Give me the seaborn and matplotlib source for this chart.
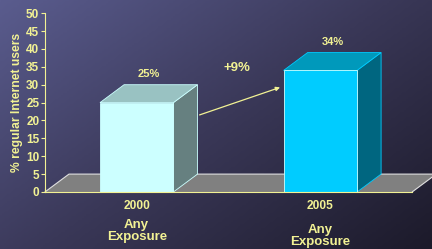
import numpy as np
import matplotlib
matplotlib.use("Agg")
import matplotlib.pyplot as plt
from matplotlib.colors import LinearSegmentedColormap
from matplotlib.patches import Polygon
import seaborn as sns
import pandas as pd

# data
years = ["2000", "2005"]
subtitles = ["Any\nExposure", "Any\nExposure"]
values = [25, 34]
value_labels = ["25%", "34%"]
change_label = "+9%"

front_colors = ["#ccffff", "#00ccff"]
side_colors = ["#668080", "#006680"]
top_colors = ["#99c2c2", "#0099bb"]
yellow = "#f2f294"

sns.set_style("ticks")
plt.rcParams["font.family"] = ["Liberation Sans", "DejaVu Sans"]
plt.rcParams["font.weight"] = "bold"

fig = plt.figure(figsize=(4.32, 2.49), dpi=100)

# gradient background
bg = fig.add_axes([0, 0, 1, 1], zorder=-10)
gx, gy = np.meshgrid(np.linspace(0, 1, 200), np.linspace(0, 1, 120))
grad = (gx * 0.55 + gy * 0.45)
cmap = LinearSegmentedColormap.from_list("bg", ["#5a5c8e", "#3a3858", "#1c1a2a"])
bg.imshow(grad, cmap=cmap, aspect="auto", extent=[0, 1, 0, 1], origin="upper")
bg.axis("off")

ax = fig.add_axes([0.104, 0.229, 0.850, 0.718])
ax.set_facecolor("none")

df = pd.DataFrame({"year": years, "value": values})
dx, dy = 0.131, 5.0
width = 0.4

# floor
floor = Polygon([(-0.5, 0), (1.5, 0), (1.5 + dx, dy), (-0.5 + dx, dy)],
                closed=True, facecolor="#808080", edgecolor="none", zorder=1, clip_on=False)
ax.add_patch(floor)
ax.plot([-0.5, -0.5 + dx, 1.5 + dx, 1.5], [0, dy, dy, 0], color="#e0e0e0",
        lw=0.8, zorder=1.5, clip_on=False)

sns.barplot(data=df, x="year", y="value", hue="year", palette=front_colors,
            width=width, legend=False, ax=ax, zorder=3, saturation=1,
            edgecolor=front_colors, linewidth=0.6)

for i, v in enumerate(values):
    x0, x1 = i - width / 2, i + width / 2
    side = Polygon([(x1, 0), (x1 + dx, dy), (x1 + dx, v + dy), (x1, v)], closed=True,
                   facecolor=side_colors[i], edgecolor=front_colors[i], lw=0.6, zorder=2.5)
    top = Polygon([(x0, v), (x0 + dx, v + dy), (x1 + dx, v + dy), (x1, v)], closed=True,
                  facecolor=top_colors[i], edgecolor=front_colors[i], lw=0.6, zorder=2.5)
    ax.add_patch(side)
    ax.add_patch(top)
    ax.text(i + dx / 2, v + dy + 3, value_labels[i], color=yellow, fontsize=8,
            fontweight="bold", ha="center", va="center")

ax.annotate("", xy=(0.795, 29.5), xytext=(0.328, 21.3),
            arrowprops=dict(arrowstyle="-|>", color=yellow, lw=0.9, mutation_scale=6))
ax.text(0.545, 34.7, change_label, color=yellow, fontsize=9.5, fontweight="bold",
        ha="center", va="center")

ax.set_xlim(-0.5, 1.5)
ax.set_ylim(0, 50)
ax.set_yticks(range(0, 51, 5))
ax.set_xticks([-0.5, 0.5, 1.5])
ax.set_xticklabels([])
ax.tick_params(axis="y", colors=yellow, labelsize=8.5, length=3, width=0.8, pad=1)
ax.tick_params(axis="x", colors=yellow, length=3, width=0.8, direction="in")
for lab in ax.get_yticklabels():
    lab.set_fontweight("bold")
for s in ["top", "right"]:
    ax.spines[s].set_visible(False)
for s in ["left", "bottom"]:
    ax.spines[s].set_color(yellow)
    ax.spines[s].set_linewidth(0.8)
    ax.spines[s].set_zorder(4)
ax.set_xlabel("")
ax.set_ylabel("% regular Internet users", color=yellow, fontsize=8.7,
              fontweight="bold", labelpad=2)

trans = ax.get_xaxis_transform()
sub_offsets = [-0.22, -0.247]
for i, (yr, sub) in enumerate(zip(years, subtitles)):
    ax.text(i, -0.078, yr, transform=trans, color=yellow, fontsize=8.6,
            fontweight="bold", ha="center", va="center")
    ax.text(i, sub_offsets[i], sub, transform=trans, color=yellow, fontsize=9.5,
            fontweight="bold", ha="center", va="center", linespacing=1.0)

fig.savefig("out.png", dpi=100)
